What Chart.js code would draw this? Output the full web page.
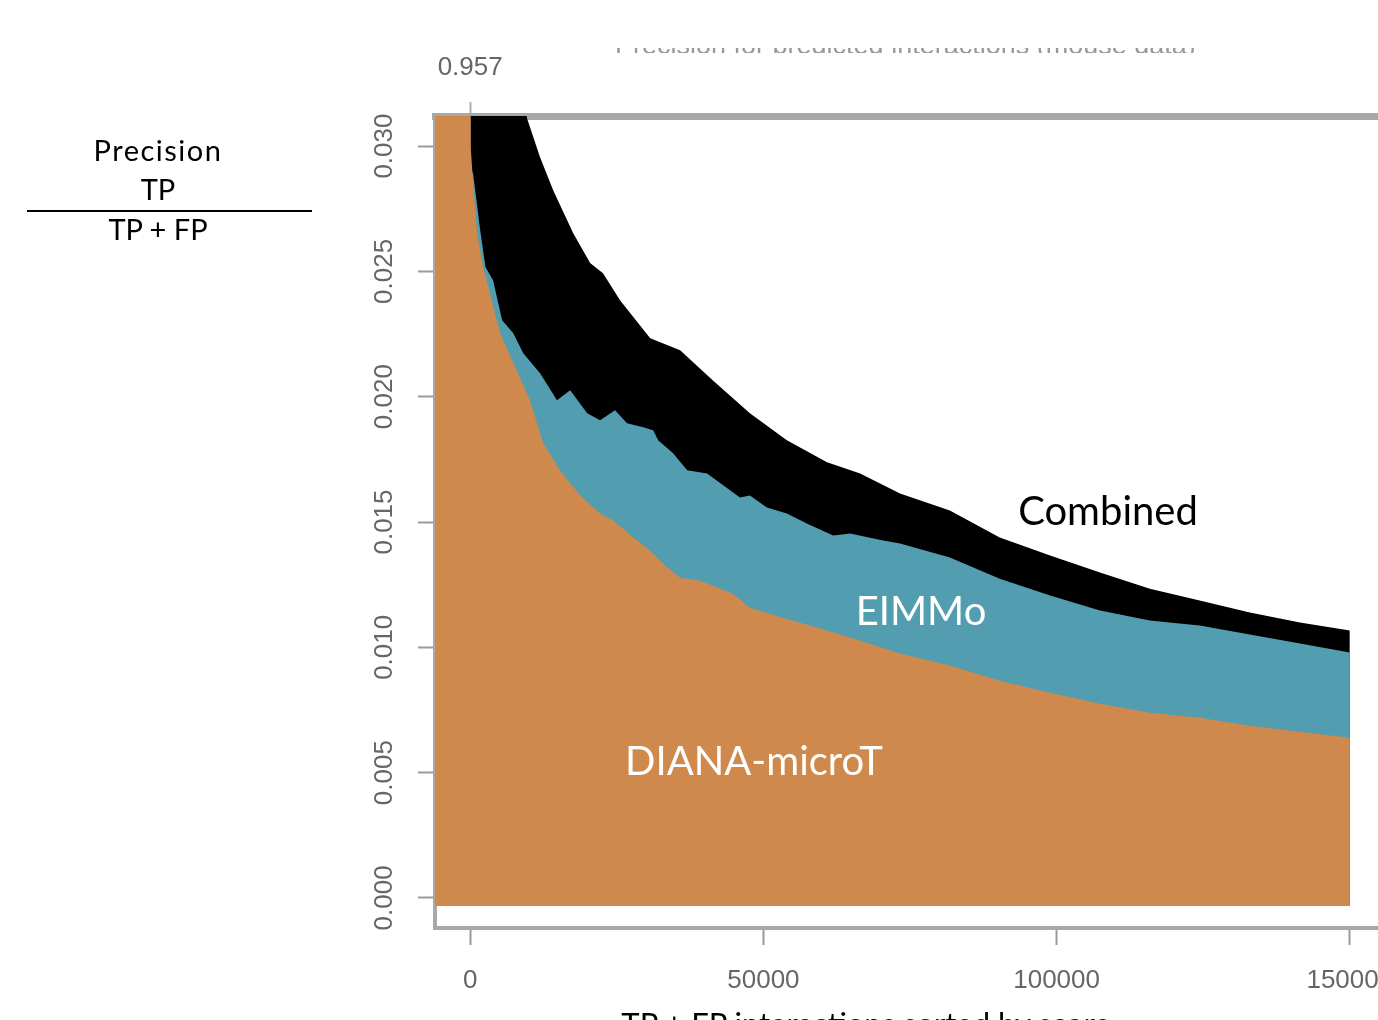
<!DOCTYPE html>
<html><head><meta charset="utf-8">
<script src="https://cdn.jsdelivr.net/npm/chart.js@4"></script>
<style>
html,body{margin:0;padding:0;background:#fff;overflow:hidden;width:1378px;height:1020px;}
#wrap{position:absolute;left:0;top:0;width:1440px;height:1020px;}
.lbl{position:absolute;white-space:nowrap;transform:translate(-50%,-50%);font-family:Lato,"Open Sans",sans-serif;line-height:1;}
#ttl{position:absolute;left:615px;top:48px;width:600px;height:5px;overflow:hidden;}
#ttl span{position:absolute;left:0;bottom:-6px;font-family:"Liberation Sans",Arial,sans-serif;font-size:27px;color:#999;white-space:nowrap;line-height:1;}
</style></head><body>
<div id="wrap"><canvas id="c" width="1440" height="1020" style="width:1440px;height:1020px;"></canvas></div>
<div id="ttl"><span>Precision for predicted interactions (mouse data)</span></div>
<div class="lbl" style="left:158px;top:149px;font-size:29px;letter-spacing:1.5px;color:#000;">Precision</div>
<div class="lbl" style="left:158px;top:188px;font-size:29px;color:#000;">TP</div>
<div style="position:absolute;left:27px;top:210px;width:285px;height:2px;background:#000;"></div>
<div class="lbl" style="left:158px;top:228px;font-size:29px;color:#000;">TP + FP</div>
<div class="lbl" style="left:1108px;top:510px;font-size:40px;color:#000;">Combined</div>
<div class="lbl" style="left:921px;top:610px;font-size:40px;color:#fff;">EIMMo</div>
<div class="lbl" style="left:754px;top:760px;font-size:40px;color:#fff;">DIANA-microT</div>
<div class="lbl" style="left:866px;top:1023px;font-size:31px;color:#000;">TP + FP interactions sorted by score</div>
<script>
// ---- data ----
const xTicks = [0, 50000, 100000, 150000];
const yTicks = [0, 0.005, 0.010, 0.015, 0.020, 0.025, 0.030];
const topTickValue = 0;
const topTickLabel = '0.957';

const combinedX = [0, 9200, 9700, 11900, 14150, 17550, 20450, 22650, 25550, 30700, 35800, 41400, 47700, 54000, 60850, 66500, 73300, 81800, 90300, 98900, 107400, 115900, 124400, 132950, 141500, 150000];
const combinedY = [0.957, 0.0320, 0.0311, 0.02956, 0.02824, 0.02653, 0.02533, 0.02493, 0.02385, 0.02233, 0.02185, 0.02065, 0.01934, 0.01826, 0.01738, 0.01694, 0.01614, 0.01546, 0.01438, 0.01366, 0.01298, 0.01234, 0.01187, 0.01139, 0.01099, 0.01067];

const eimmoX = [0, 500, 1700, 2600, 3900, 5450, 7350, 9050, 11950, 14800, 17050, 19950, 22150, 24700, 26750, 29500, 31200, 32050, 34600, 37000, 40400, 46000, 47700, 50600, 54000, 57400, 61900, 64800, 70400, 73300, 81800, 90300, 98900, 107400, 115900, 124400, 132950, 141500, 150000];
const eimmoY = [0.0292, 0.0289, 0.02665, 0.02517, 0.02465, 0.02305, 0.02253, 0.02173, 0.02093, 0.01986, 0.02026, 0.01934, 0.01906, 0.01946, 0.01894, 0.01878, 0.01866, 0.01826, 0.01774, 0.01706, 0.01694, 0.01598, 0.01606, 0.01558, 0.01534, 0.01494, 0.01446, 0.01454, 0.01426, 0.01414, 0.01358, 0.01274, 0.01207, 0.01147, 0.01107, 0.01087, 0.01051, 0.01015, 0.00979];

const dianaX = [-6000, 0, 80, 500, 1200, 2200, 5100, 10200, 12450, 15300, 18750, 22150, 24400, 27800, 30700, 33600, 35800, 39200, 44800, 47700, 53300, 59100, 64800, 73300, 81800, 90300, 98900, 107400, 115900, 124400, 132950, 141500, 150000];
const dianaY = [0.957, 0.957, 0.0300, 0.0285, 0.0265, 0.02517, 0.02253, 0.01986, 0.01814, 0.01706, 0.01606, 0.01534, 0.01506, 0.01438, 0.01386, 0.01318, 0.01278, 0.01266, 0.01214, 0.01158, 0.01118, 0.01079, 0.01039, 0.00975, 0.00927, 0.00867, 0.00819, 0.00775, 0.00739, 0.00719, 0.00687, 0.00663, 0.00639];

const X_MIN = -6000, X_MAX = 156000, Y_MIN = -0.0012, Y_MAX = 0.0312, FILL_BASE = -0.00032;

const pts = (xs, ys) => xs.map((x, i) => ({x, y: ys[i]}));
const axisGrey = '#a8a8a8', tickGrey = '#9a9a9a', labelGrey = '#666';
const tickFont = {family: '"Liberation Sans", Arial, sans-serif', size: 26};

const ds = (label, data, color) => ({
  label, data, backgroundColor: color, borderColor: color, borderWidth: 0,
  pointRadius: 0, tension: 0, fill: {value: FILL_BASE}
});

new Chart(document.getElementById('c'), {
  type: 'line',
  data: {datasets: [
    ds('DIANA-microT', pts(dianaX, dianaY), '#cf894d'),
    ds('EIMMo', pts(eimmoX, eimmoY), '#529db0'),
    ds('Combined', pts(combinedX, combinedY), '#000000')
  ]},
  options: {
    responsive: false, animation: false, events: [],
    layout: {padding: {left: 0, right: 55, top: 0, bottom: 0}},
    plugins: {legend: {display: false}, tooltip: {enabled: false}},
    scales: {
      x: {
        type: 'linear', position: 'bottom', min: X_MIN, max: X_MAX,
        afterBuildTicks: s => { s.ticks = xTicks.map(v => ({value: v})); },
        afterFit: s => { s.height = 92; },
        ticks: {callback: v => String(v), font: tickFont, color: labelGrey, padding: 20, maxRotation: 0, autoSkip: false},
        grid: {drawOnChartArea: false, tickLength: 17, tickWidth: 2, tickColor: tickGrey},
        border: {color: axisGrey, width: 4}
      },
      x2: {
        type: 'linear', position: 'top', min: X_MIN, max: X_MAX,
        afterBuildTicks: s => { s.ticks = [{value: topTickValue}]; },
        afterFit: s => { s.height = 116; },
        ticks: {callback: () => topTickLabel, font: tickFont, color: labelGrey, padding: 19, maxRotation: 0},
        grid: {drawOnChartArea: false, tickLength: 14, tickWidth: 2, tickColor: '#b0b0b0'},
        border: {color: axisGrey, width: 7}
      },
      y: {
        type: 'linear', position: 'left', min: Y_MIN, max: Y_MAX,
        afterBuildTicks: s => { s.ticks = yTicks.map(v => ({value: v})); },
        afterFit: s => { s.width = 435; },
        ticks: {callback: v => v.toFixed(3), font: tickFont, color: labelGrey, minRotation: 90, maxRotation: 90, crossAlign: 'center', padding: 1},
        grid: {drawOnChartArea: false, tickLength: 17, tickWidth: 2, tickColor: tickGrey},
        border: {color: axisGrey, width: 4}
      }
    }
  }
});
</script>
</body></html>
